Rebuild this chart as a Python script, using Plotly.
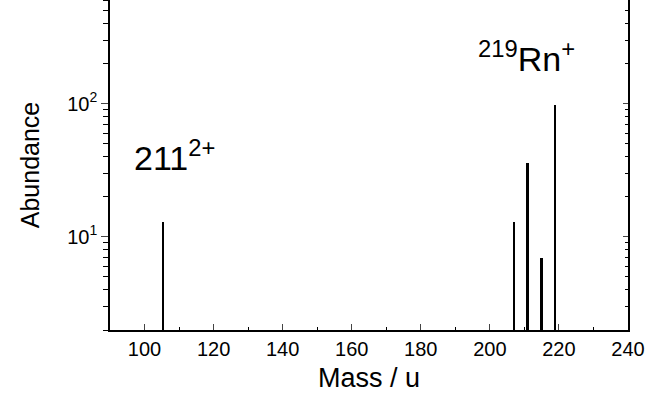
import plotly.graph_objects as go
import math

mass = [105.5, 207, 211, 215, 219]
abundance = [13, 13, 36, 7, 97]

x_range = [90, 240]
y_range = [2, 600]
x_ticks = [100, 120, 140, 160, 180, 200, 220, 240]
x_minor = [110, 130, 150, 170, 190, 210, 230]
y_major = [10, 100]
y_major_text = ["10<sup>1</sup>", "10<sup>2</sup>"]
y_minor = [2, 3, 4, 5, 6, 7, 8, 9, 20, 30, 40, 50, 60, 70, 80, 90, 200, 300, 400, 500, 600]

font_family = "Liberation Sans, Arial, sans-serif"

fig = go.Figure()
fig.add_trace(go.Bar(x=mass, y=abundance, width=0.5,
                     marker=dict(color="black", line=dict(width=0)),
                     showlegend=False))
fig.add_trace(go.Scatter(x=[None], y=[None], yaxis="y2", showlegend=False))

yr = [math.log10(y_range[0]), math.log10(y_range[1])]

fig.update_layout(
    width=648, height=393,
    margin=dict(l=110, r=20, t=0, b=63, autoexpand=False),
    plot_bgcolor="white", paper_bgcolor="white",
    font=dict(family=font_family, color="black", size=20),
    bargap=0,
    xaxis=dict(range=x_range, tickvals=x_ticks, ticks="inside", ticklen=6, tickwidth=1.2,
               showline=True, linecolor="black", linewidth=1.5, showgrid=False, zeroline=False,
               automargin=False,
               minor=dict(tickvals=x_minor, ticks="inside", ticklen=3, tickcolor="black"),
               title=dict(text="Mass / u", font=dict(size=27), standoff=12),
               tickfont=dict(size=20)),
    yaxis=dict(type="log", range=yr, tickvals=y_major, ticktext=y_major_text,
               ticks="outside", ticklen=7, tickwidth=1.2,
               showline=True, linecolor="black", linewidth=1.5, showgrid=False, zeroline=False,
               automargin=False,
               minor=dict(tickvals=y_minor, ticks="outside", ticklen=5, tickcolor="black"),
               title=dict(text="Abundance", font=dict(size=25), standoff=20),
               tickfont=dict(size=20)),
    yaxis2=dict(type="log", range=yr, overlaying="y", side="right",
                tickvals=y_major, showticklabels=False,
                ticks="inside", ticklen=5, tickwidth=1,
                showline=True, linecolor="black", linewidth=1.5, showgrid=False, zeroline=False,
                automargin=False,
                minor=dict(tickvals=y_minor, ticks="inside", ticklen=3, tickcolor="black")),
    annotations=[
        dict(x=96.5, y=math.log10(41), xref="x", yref="y", xanchor="left", yanchor="middle",
             text="211<sup>2+</sup>", showarrow=False, font=dict(size=34, color="black")),
        dict(x=196.0, y=math.log10(225), xref="x", yref="y", xanchor="left", yanchor="middle",
             text="<sup>219</sup>Rn<sup>+</sup>", showarrow=False, font=dict(size=34, color="black")),
    ],
)

fig.write_html("out.html", config={"displayModeBar": False},
               post_script="document.body.style.margin='0';")
